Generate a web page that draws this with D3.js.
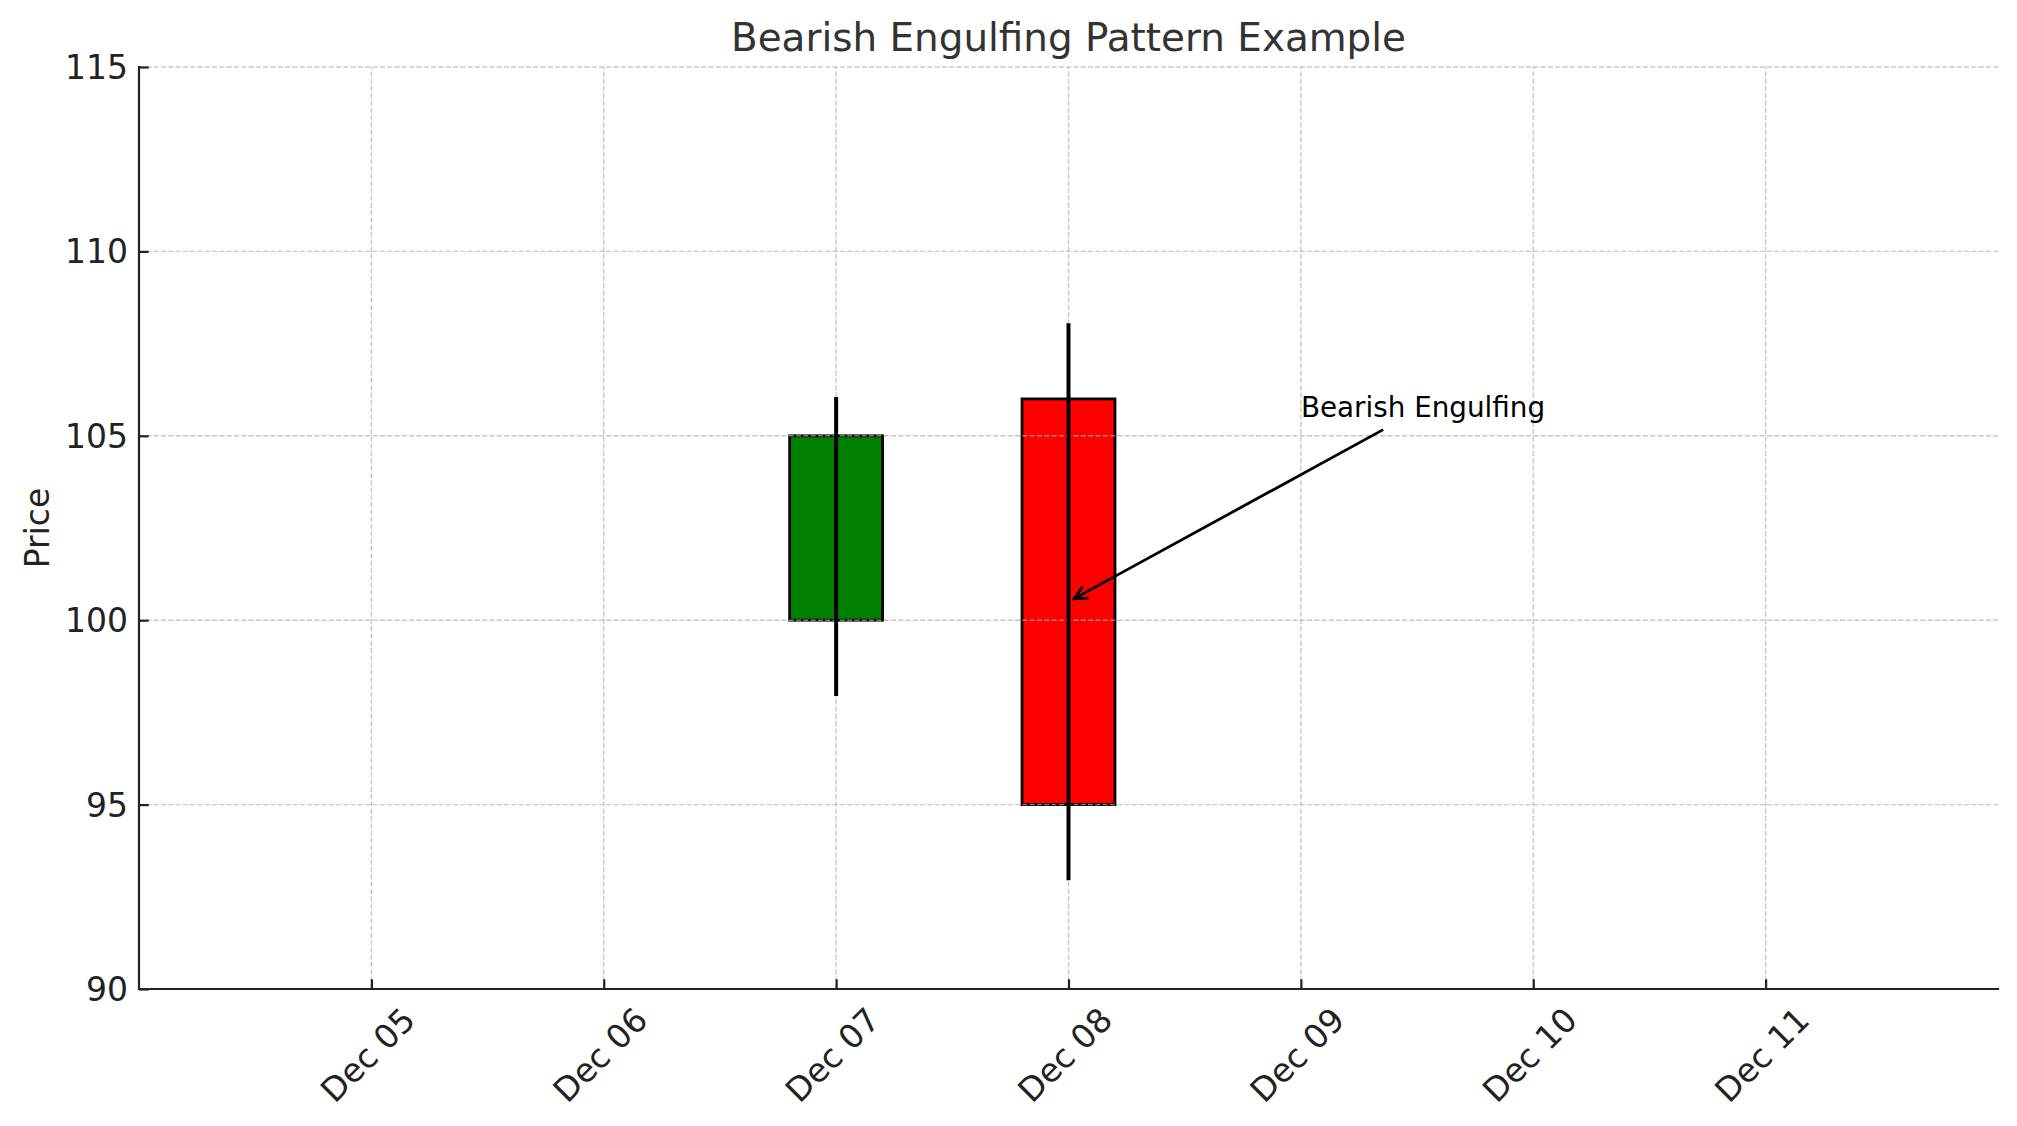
<!DOCTYPE html>
<html><head><meta charset="utf-8">
<script src="https://cdn.jsdelivr.net/npm/d3@7"></script>
<style>
body{margin:0;background:#fff;}
text{font-family:"DejaVu Sans",sans-serif;}
</style></head>
<body>
<svg id="chart" width="2017" height="1126"></svg>
<script>
// ---- data ----
const dates      = ["2023-12-07", "2023-12-08"];
const openVals   = [100, 106];
const highVals   = [106, 108];
const lowVals    = [98, 93];
const closeVals  = [105, 95];
const xTickDates = ["2023-12-05","2023-12-06","2023-12-07","2023-12-08","2023-12-09","2023-12-10","2023-12-11"];
const yTicks     = [90, 95, 100, 105, 110, 115];
const xDomainDates = ["2023-12-04", "2023-12-12"];
const yDomain    = [90, 115];
const titleText  = "Bearish Engulfing Pattern Example";
const yLabelText = "Price";
const annText    = "Bearish Engulfing";
const annXY      = ["2023-12-08", 100.5];
const annXYText  = ["2023-12-09", 105.5];

// ---- layout ----
const W = 2017, H = 1126;
const L = 139, R = 1998, T = 67, B = 989;
const parse = d3.timeParse("%Y-%m-%d");
const fmt = d3.timeFormat("%b %d");
const svg = d3.select("#chart");

const x = d3.scaleTime().domain(xDomainDates.map(parse)).range([L, R]);
const y = d3.scaleLinear().domain(yDomain).range([B, T]);

const candles = dates.map((d, i) => ({
  date: parse(d), open: openVals[i], high: highVals[i], low: lowVals[i], close: closeVals[i]
}));
const dayPx = x(d3.timeDay.offset(parse(dates[0]), 1)) - x(parse(dates[0]));
const bodyW = 0.4 * dayPx;

// bodies
svg.append("g").selectAll("rect").data(candles).join("rect")
  .attr("x", d => x(d.date) - bodyW / 2)
  .attr("y", d => y(Math.max(d.open, d.close)))
  .attr("width", bodyW)
  .attr("height", d => Math.abs(y(d.open) - y(d.close)))
  .attr("fill", d => d.close >= d.open ? "#008000" : "#ff0000")
  .attr("stroke", "#000").attr("stroke-width", 2.8);

// grid
const grid = svg.append("g").attr("stroke", "#b0b0b0").attr("stroke-opacity", 0.7)
  .attr("stroke-width", 1.4).attr("stroke-dasharray", "5.1,2.2");
grid.selectAll("line.v").data(xTickDates.map(parse)).join("line").attr("class", "v")
  .attr("x1", d => x(d)).attr("x2", d => x(d)).attr("y1", B).attr("y2", T);
grid.selectAll("line.h").data(yTicks.filter(v => v > yDomain[0])).join("line").attr("class", "h")
  .attr("x1", L).attr("x2", R).attr("y1", d => y(d)).attr("y2", d => y(d));

// wicks
svg.append("g").selectAll("line").data(candles).join("line")
  .attr("x1", d => x(d.date)).attr("x2", d => x(d.date))
  .attr("y1", d => y(d.high)).attr("y2", d => y(d.low))
  .attr("stroke", "#000").attr("stroke-width", 4).attr("stroke-linecap", "square");

// axes
const axisColor = "#222";
const yAxis = d3.axisLeft(y).tickValues(yTicks).tickSizeInner(-9.7).tickSizeOuter(0).tickPadding(22);
const gy = svg.append("g").attr("transform", `translate(${L},0)`).call(yAxis);
gy.select(".domain").remove();
gy.selectAll(".tick line").attr("stroke", axisColor).attr("stroke-width", 2.2);
gy.selectAll(".tick text").attr("font-size", 33).attr("fill", axisColor)
  .attr("font-family", "DejaVu Sans").attr("dy", "0.35em").attr("x", -11);

const xAxis = d3.axisBottom(x).tickValues(xTickDates.map(parse)).tickFormat(fmt)
  .tickSizeInner(-9.7).tickSizeOuter(0);
const gx = svg.append("g").attr("transform", `translate(0,${B})`).call(xAxis);
gx.select(".domain").remove();
gx.selectAll(".tick line").attr("stroke", axisColor).attr("stroke-width", 2.2);
gx.selectAll(".tick text")
  .attr("font-size", 33).attr("fill", axisColor).attr("font-family", "DejaVu Sans")
  .attr("y", null).attr("dy", null)
  .attr("text-anchor", "middle").attr("dominant-baseline", "central")
  .attr("transform", "translate(-4,66) rotate(-45)");

// spines
svg.append("line").attr("x1", L).attr("x2", L).attr("y1", T).attr("y2", B)
  .attr("stroke", axisColor).attr("stroke-width", 2.2).attr("stroke-linecap", "square");
svg.append("line").attr("x1", L).attr("x2", R).attr("y1", B).attr("y2", B)
  .attr("stroke", axisColor).attr("stroke-width", 2.2).attr("stroke-linecap", "square");

// title
svg.append("text").attr("x", (L + R) / 2).attr("y", 51)
  .attr("text-anchor", "middle").attr("font-size", 38.9).attr("fill", "#333")
  .text(titleText);

// y label
svg.append("text").attr("transform", `translate(49,${(T + B) / 2}) rotate(-90)`)
  .attr("text-anchor", "middle").attr("font-size", 33).attr("fill", axisColor)
  .text(yLabelText);

// annotation
const tx = x(parse(annXYText[0])), ty = y(annXYText[1]);
const px = x(parse(annXY[0])), py = y(annXY[1]);
const at = svg.append("text").attr("x", tx).attr("y", ty)
  .attr("font-size", 27.8).attr("fill", "#000").text(annText);
const bb = at.node().getBBox();
const cx = bb.x + bb.width / 2, cy = bb.y + bb.height / 2;
let dx = px - cx, dy = py - cy;
const len = Math.hypot(dx, dy);
const ux = dx / len, uy = dy / len;
// clip at bbox bottom edge
const tClip = (bb.y + bb.height - cy) / dy;
const sA = 11, sB = 6.5;
const x0 = cx + dx * tClip + ux * sA, y0 = cy + dy * tClip + uy * sA;
const x1 = px - ux * sB, y1 = py - uy * sB;
svg.append("line").attr("x1", x0).attr("y1", y0).attr("x2", x1).attr("y2", y1)
  .attr("stroke", "#000").attr("stroke-width", 2.8);
const hl = 13, hw = 6.5;
const bx = x1 - ux * hl, by = y1 - uy * hl;
svg.append("path")
  .attr("d", `M${bx - uy * hw},${by + ux * hw} L${x1},${y1} L${bx + uy * hw},${by - ux * hw}`)
  .attr("fill", "none").attr("stroke", "#000").attr("stroke-width", 2.8);
</script>
</body></html>
